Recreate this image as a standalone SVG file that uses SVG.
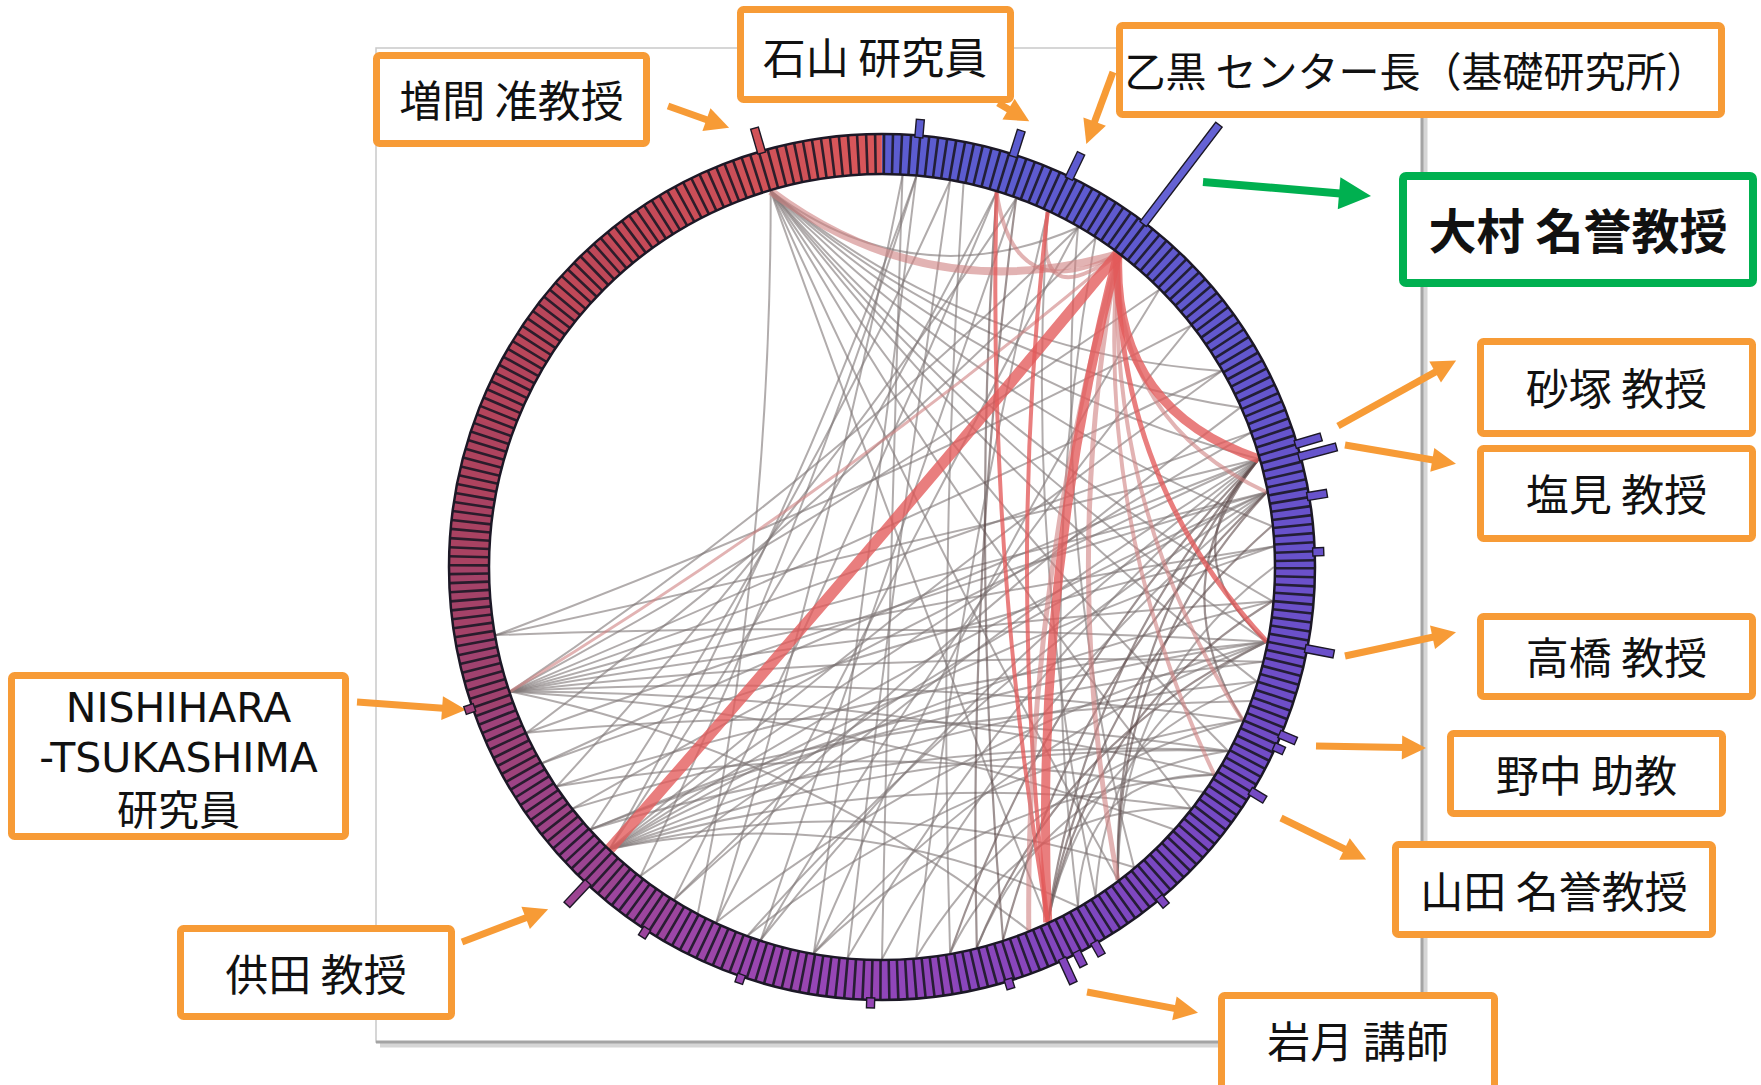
<svg xmlns="http://www.w3.org/2000/svg" width="1761" height="1085" viewBox="0 0 1761 1085">
<defs>
<style>
.box{fill:#fff;stroke:#F79B36;stroke-width:7}
.gbox{fill:#fff;stroke:#00B050;stroke-width:8}
.lbl{font-family:"Noto Sans CJK JP","Noto Sans",sans-serif;font-size:43px;fill:#111;text-anchor:middle}
.big{font-size:48px;font-weight:bold}
.lat{font-family:"DejaVu Sans","Noto Sans",sans-serif;font-size:42px;fill:#111;text-anchor:middle}
.arr{fill:none;stroke:#F79B36;stroke-width:7;marker-end:url(#ah)}
.garr{fill:none;stroke:#00B050;stroke-width:8;marker-end:url(#gh)}
.g{fill:none;stroke:#7d7575;stroke-opacity:.6;stroke-width:2}
.gd{fill:none;stroke:#5e4a4a;stroke-opacity:.6;stroke-width:2.2}
.r{fill:none;stroke:#e35a5a;stroke-opacity:.78}
.p{fill:none;stroke:#cf8080;stroke-opacity:.6}
.bar{stroke:#1c1826;stroke-width:1.4}
</style>
<marker id="ah" markerUnits="userSpaceOnUse" markerWidth="26" markerHeight="26" refX="1" refY="12" orient="auto" overflow="visible"><path d="M0,0 L24,12 L0,24 z" fill="#F79B36"/></marker>
<marker id="gh" markerUnits="userSpaceOnUse" markerWidth="34" markerHeight="34" refX="1" refY="16" orient="auto" overflow="visible"><path d="M0,0 L32,16 L0,32 z" fill="#00B050"/></marker>
</defs>
<rect width="1761" height="1085" fill="#fff"/>
<g id="frame">
<rect x="376" y="48" width="1046" height="994" fill="none" stroke="#c9c9c9" stroke-width="1.5"/>
<path d="M1425,52 V1045 H380" fill="none" stroke="#d6d6d6" stroke-width="5"/>
<path d="M1422,48 V1042 H376" fill="none" stroke="#a4a4a4" stroke-width="3"/>
</g>
<g id="connectors">
<g id="chords-gray">
<path class="g" d="M770.7,191.1 Q974.5,366.3 1240.1,407.6"/>
<path class="g" d="M770.7,191.1 Q981.6,385.5 1258.8,459"/>
<path class="g" d="M770.7,191.1 Q986.4,410.7 1271.8,526"/>
<path class="g" d="M770.7,191.1 Q986.7,438.9 1272.5,601.2"/>
<path class="g" d="M770.7,191.1 Q980.8,469 1256.9,681.6"/>
<path class="g" d="M770.7,191.1 Q970,495.1 1228.1,751"/>
<path class="g" d="M770.7,191.1 Q956.1,516.6 1190.9,808.4"/>
<path class="g" d="M770.7,191.1 Q928.7,543.5 1117.9,880.1"/>
<path class="g" d="M770.7,191.1 Q902.4,559.3 1047.7,922.3"/>
<path class="g" d="M770.7,191.1 Q771.2,555.8 697.9,913.1"/>
<path class="g" d="M770.7,191.1 Q967.6,352.6 1221.5,371"/>
<path class="g" d="M770.7,191.1 Q984.5,454.1 1266.8,641.8"/>
<path class="g" d="M770.7,191.1 Q913.8,298.8 1078,227.5"/>
<path class="g" d="M510.3,691.4 Q816.1,486.3 1078,227.5"/>
<path class="g" d="M510.3,691.4 Q846.5,509.7 1159.2,289.8"/>
<path class="g" d="M510.3,691.4 Q869.9,540.1 1221.5,371"/>
<path class="g" d="M510.3,691.4 Q880.7,563.4 1250.4,432.9"/>
<path class="g" d="M510.3,691.4 Q886.9,585.6 1266.8,492.2"/>
<path class="g" d="M510.3,691.4 Q889.4,606 1273.5,546.5"/>
<path class="g" d="M510.3,691.4 Q889,626.5 1272.5,601.2"/>
<path class="g" d="M510.3,691.4 Q885.2,649.2 1262.4,661.8"/>
<path class="g" d="M510.3,691.4 Q877.9,671.1 1242.8,720.2"/>
<path class="g" d="M510.3,691.4 Q867.3,691.5 1214.4,774.7"/>
<path class="g" d="M510.3,691.4 Q851.8,712 1173.3,829.3"/>
<path class="g" d="M510.3,691.4 Q797.7,749.9 1028.8,930.5"/>
<path class="g" d="M609.7,849 Q822.9,532.2 996.6,192.1"/>
<path class="g" d="M609.7,849 Q792.7,526.3 916.2,176.5"/>
<path class="g" d="M609.7,849 Q907.2,599.2 1221.5,371"/>
<path class="g" d="M609.7,849 Q924.2,644.7 1266.8,492.2"/>
<path class="g" d="M609.7,849 Q926.3,685.6 1272.5,601.2"/>
<path class="g" d="M609.7,849 Q920.5,715.7 1256.9,681.6"/>
<path class="g" d="M609.7,849 Q909.7,741.8 1228.1,751"/>
<path class="g" d="M609.7,849 Q895.7,763.2 1190.9,808.4"/>
<path class="g" d="M609.7,849 Q874.4,785.3 1134,867.3"/>
<path class="g" d="M609.7,849 Q853.4,800 1078,906.5"/>
<path class="g" d="M609.7,849 Q918,622.5 1250.4,432.9"/>
<path class="g" d="M609.7,849 Q926.7,665 1273.5,546.5"/>
<path class="gd" d="M1258.8,459 Q1111.8,643.9 1117.9,880.1"/>
<path class="gd" d="M1258.8,459 Q1085.4,659.7 1047.7,922.3"/>
<path class="gd" d="M1258.8,459 Q1048.8,671.3 950.1,953"/>
<path class="g" d="M1258.8,459 Q1010.5,672.9 847.8,957.5"/>
<path class="g" d="M1258.8,459 Q977.9,666.3 760.9,939.8"/>
<path class="g" d="M1258.8,459 Q945.4,651.1 674.3,899.4"/>
<path class="g" d="M1258.8,459 Q907.5,617 573.1,808.4"/>
<path class="g" d="M1258.8,459 Q896,600 542.5,763"/>
<path class="g" d="M1258.8,459 Q878.5,552 495.9,635.1"/>
<path class="gd" d="M1258.8,459 Q1158.6,583.9 1242.8,720.2"/>
<path class="gd" d="M1258.8,459 Q1167.6,554.5 1266.8,641.8"/>
<path class="g" d="M1266.8,492.2 Q1026.3,686 882,959"/>
<path class="g" d="M1266.8,492.2 Q976,677.1 747.9,935.4"/>
<path class="g" d="M1266.8,492.2 Q935.8,654.8 640.6,875.9"/>
<path class="g" d="M1266.8,492.2 Q893.1,601.1 526.7,732.7"/>
<path class="gd" d="M1266.8,492.2 Q1071.7,678.8 1003.1,939.8"/>
<path class="g" d="M1266.8,641.8 Q1000.8,739.8 813.9,953"/>
<path class="g" d="M1266.8,641.8 Q964.2,728.3 716.3,922.3"/>
<path class="g" d="M1266.8,641.8 Q904.4,677.3 557,786.2"/>
<path class="gd" d="M1266.8,641.8 Q1061.9,737.7 976.8,947.4"/>
<path class="g" d="M1266.8,641.8 Q881.5,620.6 495.9,635.1"/>
<path class="g" d="M1266.8,641.8 Q917.1,693.4 590.7,829.3"/>
<path class="g" d="M1242.8,720.2 Q1030.1,770.9 916.2,957.5"/>
<path class="g" d="M1242.8,720.2 Q967,762.6 747.9,935.4"/>
<path class="g" d="M1228.1,751 Q902.6,734.4 590.7,829.3"/>
<path class="g" d="M1228.1,751 Q878.6,698.1 526.7,732.7"/>
<path class="g" d="M1228.1,751 Q1047.3,778.7 976.8,947.4"/>
<path class="g" d="M1214.4,774.7 Q1080.2,772.2 1078,906.5"/>
<path class="g" d="M1190.9,808.4 Q1023.4,802.3 950.1,953"/>
<path class="g" d="M1214.4,774.7 Q981.1,789.7 813.9,953"/>
<path class="g" d="M950.1,181 Q894.7,565.3 847.8,957.5"/>
<path class="g" d="M963.5,183.6 Q938.1,566 950.1,953"/>
<path class="gd" d="M996.6,192.1 Q970.4,566.2 1003.1,939.8"/>
<path class="gd" d="M1016.1,198.6 Q967.8,571.5 976.8,947.4"/>
<path class="g" d="M1047.7,211.7 Q1024.2,557.1 1095.5,895.8"/>
<path class="g" d="M1047.7,211.7 Q956.9,580.2 916.2,957.5"/>
<path class="g" d="M1078,227.5 Q1050,552.3 1134,867.3"/>
<path class="g" d="M1095.5,238.2 Q1035.6,571 1078,906.5"/>
<path class="g" d="M902.5,175.6 Q827.6,553.4 716.3,922.3"/>
<path class="g" d="M916.2,176.5 Q804.3,536.4 640.6,875.9"/>
<path class="g" d="M950.1,181 Q798.3,520.6 590.7,829.3"/>
<path class="g" d="M916.2,176.5 Q869.3,565.3 813.9,953"/>
<path class="g" d="M902.5,175.6 Q889.7,567.2 882,959"/>
<path class="g" d="M1016.1,198.6 Q886.9,568.7 760.9,939.8"/>
<path class="g" d="M996.6,192.1 Q847.1,551.1 674.3,899.4"/>
<path class="gd" d="M1047.7,922.3 Q1090.3,684.9 1271.8,526"/>
<path class="gd" d="M1047.7,922.3 Q1090.6,713 1272.5,601.2"/>
<path class="g" d="M1047.7,922.3 Q1084.7,743.2 1256.9,681.6"/>
<path class="gd" d="M1117.9,880.1 Q1114.8,656.3 1266.8,492.2"/>
<path class="g" d="M1117.9,880.1 Q1117.5,684.4 1274,567"/>
<path class="g" d="M1095.5,895.8 Q1106.4,718.3 1266.8,641.8"/>
<path class="g" d="M573.1,808.4 Q904.3,707.8 1250.4,701.1"/>
<path class="g" d="M557,786.2 Q880.6,733.5 1203.1,791.9"/>
<path class="g" d="M542.5,763 Q901.5,632.8 1273.5,546.5"/>
<path class="g" d="M590.7,829.3 Q915.4,700.9 1262.4,661.8"/>
<path class="g" d="M495.9,635.1 Q853.1,502 1190.9,325.6"/>
<path class="g" d="M526.7,732.7 Q828.8,505.8 1095.5,238.2"/>
<path class="g" d="M557,786.2 Q810.4,511.1 1016.1,198.6"/>
<path class="g" d="M674.3,899.4 Q938.4,631.9 1240.1,407.6"/>
<path class="g" d="M760.9,939.8 Q952.4,616.3 1190.9,325.6"/>
<path class="g" d="M813.9,953 Q960.4,607.8 1159.2,289.8"/>
<path class="g" d="M716.3,922.3 Q893.4,572.9 1078,227.5"/>
</g>
<g id="chords-red">
<path class="p" stroke-width="3" d="M510.3,691.4 Q831.1,496.2 1117.9,254"/>
<path class="p" stroke-width="8" d="M1117.9,254 Q928.7,308.7 770.7,191.1"/>
<path class="p" stroke-width="4" d="M1117.9,254 Q1013.4,309 996.6,192.1"/>
<path class="p" stroke-width="4" d="M1117.9,254 Q1032.6,316.4 1047.7,211.7"/>
<path class="r" stroke-width="4" d="M996.6,192.1 Q987.1,559.6 1047.7,922.3"/>
<path class="r" stroke-width="4" d="M1047.7,211.7 Q1006.2,567 1047.7,922.3"/>
<path class="p" stroke-width="4" d="M1117.9,254 Q1114.8,421.6 1266.8,492.2"/>
<path class="r" stroke-width="5" d="M1117.9,254 Q1114.8,477.7 1266.8,641.8"/>
<path class="p" stroke-width="4" d="M1117.9,254 Q1105.8,507 1242.8,720.2"/>
<path class="p" stroke-width="4" d="M1117.9,254 Q1095.1,527.5 1214.4,774.7"/>
<path class="p" stroke-width="5" d="M1117.9,254 Q1058.9,567 1117.9,880.1"/>
<path class="p" stroke-width="5" d="M1117.9,254 Q1025.5,585.9 1028.8,930.5"/>
<path class="r" stroke-width="9" d="M1117.9,254 Q1032.6,582.8 1047.7,922.3"/>
<path class="r" stroke-width="9" d="M1117.9,254 Q1111.8,409.1 1258.8,459"/>
<path class="r" stroke-width="11" d="M1117.9,254 Q868.3,555.3 609.7,849"/>
</g>
<g id="callouts">
<path class="arr" d="M668,106 L707.4,120"/>
<path class="arr" d="M998,103 L1009.4,109.7"/>
<path class="arr" d="M1113,72 L1094.3,122.5"/>
<path class="garr" d="M1203,182 L1340.1,193.4"/>
<path class="arr" d="M1338,426 L1436,371.6"/>
<path class="arr" d="M1345,445 L1433.3,460"/>
<path class="arr" d="M1345,656 L1433.5,637"/>
<path class="arr" d="M1316,746 L1403,747.6"/>
<path class="arr" d="M1281,818 L1345.4,849.5"/>
<path class="arr" d="M1087,992 L1175.4,1008.6"/>
<path class="arr" d="M357,702 L443.1,708.2"/>
<path class="arr" d="M462,942 L526.6,917.5"/>
</g>
</g>
<g id="ring" fill="none" stroke-width="40">
<circle cx="882" cy="567" r="413" stroke="#5c5cd0" stroke-dasharray="73 2600" transform="rotate(-90 882 567)"/>
<circle cx="882" cy="567" r="413" stroke="#5c5cd0" stroke-dasharray="73 2600" transform="rotate(-80 882 567)"/>
<circle cx="882" cy="567" r="413" stroke="#5e5bd0" stroke-dasharray="73 2600" transform="rotate(-70 882 567)"/>
<circle cx="882" cy="567" r="413" stroke="#5f5acf" stroke-dasharray="73 2600" transform="rotate(-60 882 567)"/>
<circle cx="882" cy="567" r="413" stroke="#6059ce" stroke-dasharray="73 2600" transform="rotate(-50 882 567)"/>
<circle cx="882" cy="567" r="413" stroke="#6258ce" stroke-dasharray="73 2600" transform="rotate(-40 882 567)"/>
<circle cx="882" cy="567" r="413" stroke="#6456cd" stroke-dasharray="73 2600" transform="rotate(-30 882 567)"/>
<circle cx="882" cy="567" r="413" stroke="#6654cc" stroke-dasharray="73 2600" transform="rotate(-20 882 567)"/>
<circle cx="882" cy="567" r="413" stroke="#6852cb" stroke-dasharray="73 2600" transform="rotate(-10 882 567)"/>
<circle cx="882" cy="567" r="413" stroke="#6b50ca" stroke-dasharray="73 2600" transform="rotate(0 882 567)"/>
<circle cx="882" cy="567" r="413" stroke="#6e4ec8" stroke-dasharray="73 2600" transform="rotate(10 882 567)"/>
<circle cx="882" cy="567" r="413" stroke="#714cc6" stroke-dasharray="73 2600" transform="rotate(20 882 567)"/>
<circle cx="882" cy="567" r="413" stroke="#754ac4" stroke-dasharray="73 2600" transform="rotate(30 882 567)"/>
<circle cx="882" cy="567" r="413" stroke="#7948c2" stroke-dasharray="73 2600" transform="rotate(40 882 567)"/>
<circle cx="882" cy="567" r="413" stroke="#7e47c0" stroke-dasharray="73 2600" transform="rotate(50 882 567)"/>
<circle cx="882" cy="567" r="413" stroke="#8346be" stroke-dasharray="73 2600" transform="rotate(60 882 567)"/>
<circle cx="882" cy="567" r="413" stroke="#8946bc" stroke-dasharray="73 2600" transform="rotate(70 882 567)"/>
<circle cx="882" cy="567" r="413" stroke="#9046ba" stroke-dasharray="73 2600" transform="rotate(80 882 567)"/>
<circle cx="882" cy="567" r="413" stroke="#9646b6" stroke-dasharray="73 2600" transform="rotate(90 882 567)"/>
<circle cx="882" cy="567" r="413" stroke="#9a46b0" stroke-dasharray="73 2600" transform="rotate(100 882 567)"/>
<circle cx="882" cy="567" r="413" stroke="#9c46a8" stroke-dasharray="73 2600" transform="rotate(110 882 567)"/>
<circle cx="882" cy="567" r="413" stroke="#9c459e" stroke-dasharray="73 2600" transform="rotate(120 882 567)"/>
<circle cx="882" cy="567" r="413" stroke="#9c4492" stroke-dasharray="73 2600" transform="rotate(130 882 567)"/>
<circle cx="882" cy="567" r="413" stroke="#9d4386" stroke-dasharray="73 2600" transform="rotate(140 882 567)"/>
<circle cx="882" cy="567" r="413" stroke="#9e427a" stroke-dasharray="73 2600" transform="rotate(150 882 567)"/>
<circle cx="882" cy="567" r="413" stroke="#a0426f" stroke-dasharray="73 2600" transform="rotate(160 882 567)"/>
<circle cx="882" cy="567" r="413" stroke="#a44268" stroke-dasharray="73 2600" transform="rotate(170 882 567)"/>
<circle cx="882" cy="567" r="413" stroke="#a94262" stroke-dasharray="73 2600" transform="rotate(180 882 567)"/>
<circle cx="882" cy="567" r="413" stroke="#ae435e" stroke-dasharray="73 2600" transform="rotate(190 882 567)"/>
<circle cx="882" cy="567" r="413" stroke="#b4445c" stroke-dasharray="73 2600" transform="rotate(200 882 567)"/>
<circle cx="882" cy="567" r="413" stroke="#b9465a" stroke-dasharray="73 2600" transform="rotate(210 882 567)"/>
<circle cx="882" cy="567" r="413" stroke="#bf4858" stroke-dasharray="73 2600" transform="rotate(220 882 567)"/>
<circle cx="882" cy="567" r="413" stroke="#c54a58" stroke-dasharray="73 2600" transform="rotate(230 882 567)"/>
<circle cx="882" cy="567" r="413" stroke="#cb4e58" stroke-dasharray="73 2600" transform="rotate(240 882 567)"/>
<circle cx="882" cy="567" r="413" stroke="#d15258" stroke-dasharray="73 2600" transform="rotate(250 882 567)"/>
<circle cx="882" cy="567" r="413" stroke="#d8565a" stroke-dasharray="72 2600" transform="rotate(260 882 567)"/>
<circle cx="882" cy="567" r="413" stroke="#1c1826" stroke-opacity=".9" stroke-dasharray="2.6 6.05"/>
<circle cx="882" cy="567" r="393" stroke="#1c1826" stroke-width="2.5"/>
<circle cx="882" cy="567" r="433" stroke="#1c1826" stroke-width="2.5"/>
</g>
<g id="bars" class="bar">
<rect x="878" y="110" width="8" height="26" fill="#d15258" transform="rotate(343.8 882 567)"/>
<rect x="878" y="118" width="8" height="18" fill="#5c5cd0" transform="rotate(4.9 882 567)"/>
<rect x="878" y="109" width="8" height="27" fill="#5c5cd0" transform="rotate(17.7 882 567)"/>
<rect x="878" y="108" width="8" height="28" fill="#5e5bd0" transform="rotate(25.7 882 567)"/>
<rect x="878" y="11" width="8" height="125" fill="#6562d4" transform="rotate(37.3 882 567)"/>
<rect x="878" y="109" width="8" height="27" fill="#6654cc" transform="rotate(73.5 882 567)"/>
<rect x="878" y="97" width="8" height="39" fill="#6654cc" transform="rotate(75.2 882 567)"/>
<rect x="878" y="116" width="8" height="20" fill="#6852cb" transform="rotate(80.6 882 567)"/>
<rect x="878" y="125" width="8" height="11" fill="#6852cb" transform="rotate(88 882 567)"/>
<rect x="878" y="107" width="8" height="29" fill="#6b50ca" transform="rotate(100.9 882 567)"/>
<rect x="878" y="118" width="8" height="18" fill="#714cc6" transform="rotate(112.8 882 567)"/>
<rect x="878" y="125" width="8" height="11" fill="#714cc6" transform="rotate(114.6 882 567)"/>
<rect x="878" y="119" width="8" height="17" fill="#754ac4" transform="rotate(121.3 882 567)"/>
<rect x="878" y="125" width="8" height="11" fill="#7e47c0" transform="rotate(140 882 567)"/>
<rect x="878" y="121" width="8" height="15" fill="#8346be" transform="rotate(150.5 882 567)"/>
<rect x="878" y="120" width="8" height="16" fill="#8346be" transform="rotate(153.2 882 567)"/>
<rect x="878" y="109" width="8" height="27" fill="#8346be" transform="rotate(155.3 882 567)"/>
<rect x="878" y="126" width="8" height="10" fill="#8946bc" transform="rotate(163 882 567)"/>
<rect x="878" y="126" width="8" height="10" fill="#9646b6" transform="rotate(181.5 882 567)"/>
<rect x="878" y="127" width="8" height="9" fill="#9a46b0" transform="rotate(199 882 567)"/>
<rect x="878" y="126" width="8" height="10" fill="#9c459e" transform="rotate(213 882 567)"/>
<rect x="878" y="105" width="8" height="31" fill="#9c4492" transform="rotate(223 882 567)"/>
<rect x="878" y="126" width="8" height="10" fill="#9e427a" transform="rotate(251 882 567)"/>
</g>
<g id="node-masuma"><rect class="box" x="376.5" y="55.5" width="270" height="88" rx="3"/><text class="lbl" x="511.5" y="117">増間 准教授</text></g>
<g id="node-ishiyama"><rect class="box" x="740.5" y="9.5" width="270" height="90" rx="3"/><text class="lbl" x="875" y="74">石山 研究員</text></g>
<g id="node-otoguro"><rect class="box" x="1119.5" y="25.5" width="602" height="89" rx="3"/><text class="lbl" x="1416" y="87" style="font-size:41px">乙黒 センター長（基礎研究所）</text></g>
<g id="node-omura"><rect class="gbox" x="1403" y="176" width="350" height="107" rx="3"/><text class="lbl big" x="1578" y="249">大村 名誉教授</text></g>
<g id="node-sunazuka"><rect class="box" x="1480.5" y="341.5" width="272" height="92" rx="3"/><text class="lbl" x="1616.5" y="405">砂塚 教授</text></g>
<g id="node-shiomi"><rect class="box" x="1480.5" y="448.5" width="272" height="90" rx="3"/><text class="lbl" x="1616.5" y="511">塩見 教授</text></g>
<g id="node-takahashi"><rect class="box" x="1480.5" y="616.5" width="272" height="80" rx="3"/><text class="lbl" x="1616.5" y="674">高橋 教授</text></g>
<g id="node-nonaka"><rect class="box" x="1450.5" y="733.5" width="272" height="80" rx="3"/><text class="lbl" x="1586.5" y="792">野中 助教</text></g>
<g id="node-yamada"><rect class="box" x="1395.5" y="844.5" width="317" height="90" rx="3"/><text class="lbl" x="1554" y="908">山田 名誉教授</text></g>
<g id="node-iwatsuki"><rect class="box" x="1221.5" y="995.5" width="273" height="100" rx="3"/><text class="lbl" x="1358" y="1058">岩月 講師</text></g>
<g id="node-nishihara"><rect class="box" x="11.5" y="675.5" width="334" height="161" rx="3"/><text class="lat" x="178.5" y="722" style="font-size:41px">NISHIHARA</text><text class="lat" x="178.5" y="772" style="font-size:41px">-TSUKASHIMA</text><text class="lbl" x="178.5" y="825" style="font-size:41px">研究員</text></g>
<g id="node-tomoda"><rect class="box" x="180.5" y="928.5" width="271" height="88" rx="3"/><text class="lbl" x="316" y="991">供田 教授</text></g>
</svg>
